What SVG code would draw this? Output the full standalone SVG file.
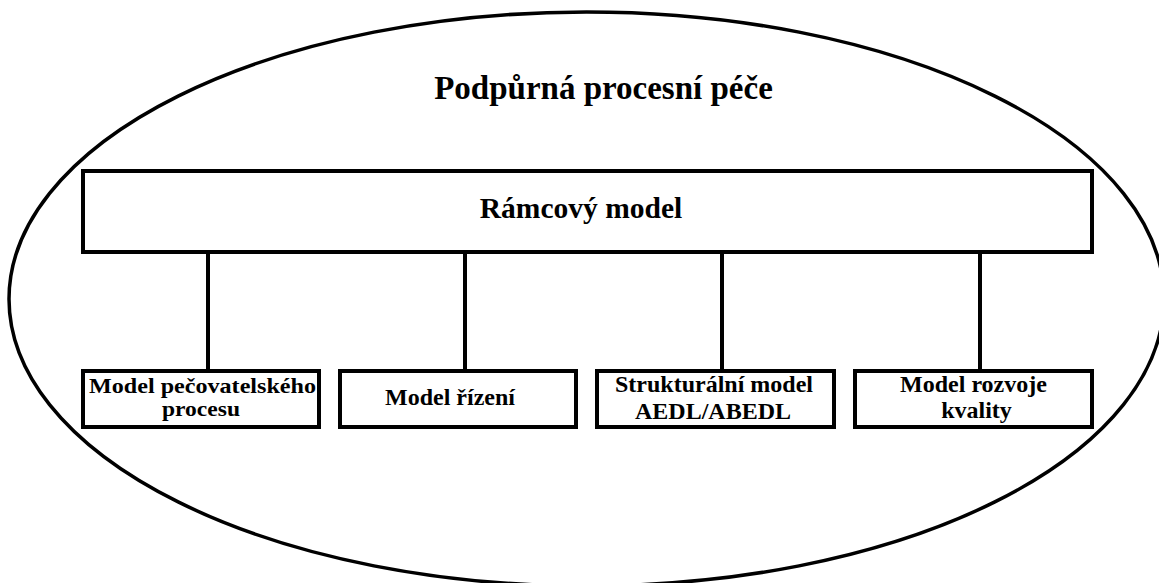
<svg xmlns="http://www.w3.org/2000/svg" width="1159" height="583" viewBox="0 0 1159 583">
  <style>
    .box { fill: #ffffff; stroke: #000000; stroke-width: 4; }
    .link { stroke: #000000; stroke-width: 4; fill: none; }
    .txt { font-family: "Liberation Serif", "Times New Roman", serif; font-weight: bold; fill: #000000; text-anchor: middle; }
    .title { font-size: 33px; }
    .main { font-size: 29.5px; }
    .sub { font-size: 24px; }
    .sub-tight { font-size: 22px; }
  </style>
  <rect x="0" y="0" width="1159" height="583" fill="#ffffff"/>

  <!-- outer boundary -->
  <g id="boundary">
    <ellipse cx="586.5" cy="299" rx="577.5" ry="287" fill="none" stroke="#000000" stroke-width="3.5"/>
    <text class="txt title" x="603.5" y="99">Podpůrná procesní péče</text>
  </g>

  <!-- connectors from the frame model to the four sub-models -->
  <g id="connectors">
    <line class="link" x1="208" y1="252" x2="208" y2="371"/>
    <line class="link" x1="465" y1="252" x2="465" y2="371"/>
    <line class="link" x1="722" y1="252" x2="722" y2="371"/>
    <line class="link" x1="980" y1="252" x2="980" y2="371"/>
  </g>

  <g id="ramcovy-model">
    <rect class="box" x="83" y="171" width="1009" height="81"/>
    <text class="txt main" x="581" y="218">Rámcový model</text>
  </g>

  <g id="model-pecovatelskeho-procesu">
    <rect class="box" x="83" y="371" width="236" height="56"/>
    <text class="txt sub-tight" x="202.5" y="393" textLength="227" lengthAdjust="spacingAndGlyphs">Model pečovatelského</text>
    <text class="txt sub-tight" x="201" y="416" textLength="78" lengthAdjust="spacingAndGlyphs">procesu</text>
  </g>

  <g id="model-rizeni">
    <rect class="box" x="340" y="371" width="236" height="56"/>
    <text class="txt sub" x="450" y="405">Model řízení</text>
  </g>

  <g id="strukturalni-model">
    <rect class="box" x="597" y="371" width="237" height="56"/>
    <text class="txt sub" x="714" y="392">Strukturální model</text>
    <text class="txt sub" x="713" y="419">AEDL/ABEDL</text>
  </g>

  <g id="model-rozvoje-kvality">
    <rect class="box" x="855" y="371" width="237" height="56"/>
    <text class="txt sub" x="973.5" y="392">Model rozvoje</text>
    <text class="txt sub" x="976.5" y="418">kvality</text>
  </g>
</svg>
